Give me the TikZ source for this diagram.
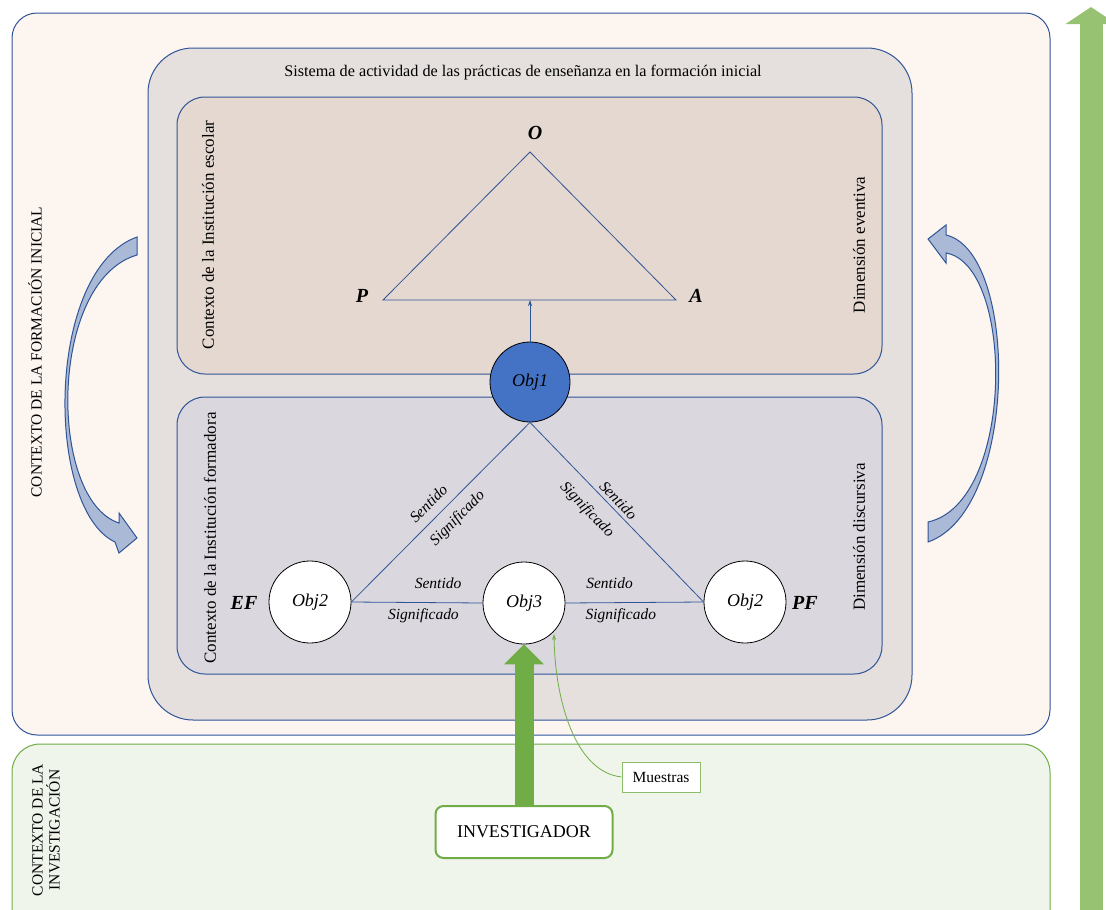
\documentclass[tikz,border=0pt]{standalone}
\usepackage{fontspec}
\setmainfont{Liberation Serif}
\usetikzlibrary{arrows.meta}
\definecolor{lineblue}{RGB}{47,85,151}
\definecolor{arrowblue}{RGB}{170,185,214}
\definecolor{outerfill}{RGB}{252,245,240}
\definecolor{sysfill}{RGB}{229,224,222}
\definecolor{escfill}{RGB}{228,216,208}
\definecolor{formfill}{RGB}{218,216,222}
\definecolor{invfill}{RGB}{240,245,236}
\definecolor{invgreen}{RGB}{112,173,71}
\definecolor{upgreen}{RGB}{151,194,114}
\definecolor{objblue}{RGB}{68,114,196}

\begin{document}
\begin{tikzpicture}[x=1pt,y=-1pt,
	box/.style={draw=lineblue,line width=1pt,rounded corners=#1},
	obj/.style={draw=black,circle,minimum size=82pt,inner sep=0pt,line width=0.8pt,font=\fontsize{18}{20}\selectfont\itshape},
	vert/.style={rotate=90,font=\fontsize{15.5}{17}\selectfont},
	vlab/.style={font=\fontsize{20}{22}\selectfont\bfseries\itshape},
	rel/.style={font=\fontsize{15.5}{17}\selectfont\itshape,sloped},
	tri/.style={draw=lineblue,line width=0.8pt},
	curvearrow/.style={fill=arrowblue,draw=lineblue,line width=1pt}]
	\clip (0,0) rectangle (1106,910);
	% contextos
	\draw[box=25pt,fill=outerfill] (12,13) rectangle (1050,735);
	\draw[box=28pt,draw=invgreen,fill=invfill] (12,744) rectangle (1050,960);
	\node[vert] (ctxform) at (35,352) {CONTEXTO DE LA FORMACIÓN INICIAL};
	\node[vert,align=center] (ctxinv) at (46,830) {CONTEXTO DE LA\\INVESTIGACIÓN};
	% sistema de actividad
	\draw[box=45pt,fill=sysfill] (148,48) rectangle (912,720);
	\node[font=\fontsize{16.2}{18}\selectfont] (title) at (523,73) {Sistema de actividad de las prácticas de enseñanza en la formación inicial};
	\draw[box=28pt,fill=escfill] (177,97) rectangle (882,374);
	\draw[box=28pt,fill=formfill] (177,397) rectangle (882,674);
	\node[vert,font=\fontsize{17}{19}\selectfont] (esc) at (208,235) {Contexto de la Institución escolar};
	\node[vert,font=\fontsize{17}{19}\selectfont] (formad) at (210,538) {Contexto de la Institución formadora};
	\node[vert,font=\fontsize{17}{19}\selectfont] (dimev) at (859,245) {Dimensión eventiva};
	\node[vert,font=\fontsize{17}{19}\selectfont] (dimdis) at (859,537) {Dimensión discursiva};
	% triangulo superior
	\coordinate (tO) at (530,152);
	\coordinate (tP) at (383,300);
	\coordinate (tA) at (676,300);
	\coordinate (tbase) at (530,300);
	\draw[tri] (tO) -- (tP) -- (tA) -- cycle;
	\node[vlab] (lO) at (535,133) {O};
	\node[vlab] (lP) at (362,296) {P};
	\node[vlab] (lA) at (696,296) {A};
	% objetos
	\node[obj,fill=objblue,minimum size=80pt] (obj1) at (530,382) {Obj1};
	\node[obj,fill=white] (obj2l) at (310,602) {Obj2};
	\node[obj,fill=white] (obj3) at (524,603) {Obj3};
	\node[obj,fill=white] (obj2r) at (745,602) {Obj2};
	\node[vlab] (ef) at (244,603) {EF};
	\node[vlab] (pf) at (805,603) {PF};
	\draw[tri,-{Stealth[length=6pt,width=4pt]}] (obj1.north) -- (tbase);
	\draw[tri] (obj2l.east) -- node[rel,above,inner sep=9pt,pos=0.49] {Sentido} node[rel,below,inner sep=9pt,pos=0.53] {Significado} (obj1.south);
	\draw[tri] (obj1.south) -- node[rel,above,inner sep=3.7pt,pos=0.47] {Sentido} node[rel,below,inner sep=12.5pt,pos=0.41] {Significado} (obj2r.west);
	\draw[tri] (obj2l.east) -- node[rel,above,inner sep=13.5pt,pos=0.66] {Sentido} node[rel,below,inner sep=5.5pt,pos=0.55] {Significado} (obj3.west);
	\draw[tri] (obj3.east) -- node[rel,above,inner sep=13.5pt,pos=0.32] {Sentido} node[rel,below,inner sep=5.5pt,pos=0.40] {Significado} (obj2r.west);
	% flechas curvas
	\filldraw[curvearrow] (137,237) .. controls (45,270) and (45,509) .. (115,542) -- (119,553) -- (137,538) -- (119,513) -- (119,523) .. controls (48,500) and (48,281) .. (137,255) -- cycle;
	\filldraw[curvearrow] (928,542) .. controls (1019,510) and (1019,252) .. (946,235) -- (946,225) -- (928,239) -- (946,263) -- (946,253) .. controls (1015,265) and (1015,503) .. (928,522) -- cycle;
	% investigador
	\node[draw=invgreen,fill=white,line width=2pt,rounded corners=8pt,minimum width=177pt,minimum height=52pt,font=\fontsize{18}{20}\selectfont] (inv) at (524,832) {INVESTIGADOR};
	\node[draw=invgreen!80,fill=white,line width=0.8pt,minimum width=78pt,minimum height=30pt,inner sep=2pt,font=\fontsize{15.5}{17}\selectfont] (mues) at (661,777) {Muestras};
	\draw[draw=invgreen,line width=19pt,-{Triangle[length=20pt,width=39pt]}] (inv.north) -- (obj3.south);
	\draw[draw=invgreen,line width=0.8pt,-{Stealth[length=6pt,width=4pt]}] (mues.west) .. controls (575,772) and (555,700) .. (554,634);
	% flecha vertical
	\coordinate (gbot) at (1091,915);
	\coordinate (gtop) at (1091,7);
	\draw[draw=upgreen,line width=23pt,-{Triangle[length=17pt,width=50pt]}] (gbot) -- (gtop);
\end{tikzpicture}
\end{document}
